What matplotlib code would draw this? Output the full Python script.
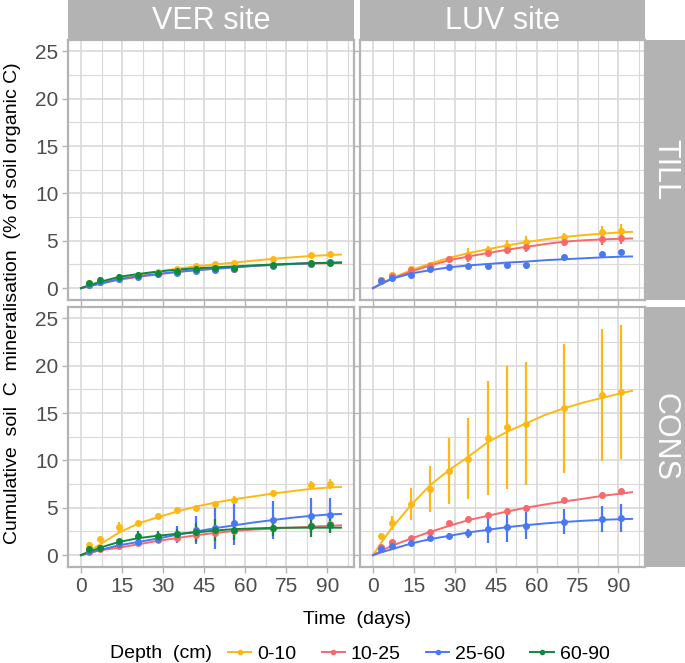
import numpy as np
import matplotlib.pyplot as plt
from matplotlib.lines import Line2D

plt.rcParams['font.family'] = ['Liberation Sans', 'DejaVu Sans']

# sampling days and days where the fitted curves were read
days = [3, 7, 14, 21, 28, 35, 42, 49, 56, 70, 84, 91]
fit_days = [0, 3, 7, 14, 21, 28, 35, 42, 49, 56, 63, 70, 77, 84, 91, 95]

depths = ['0-10', '10-25', '25-60', '60-90']
colors = ['#FDB813', '#F8696B', '#4A78F5', '#0E8A3C']
sites = ['VER site', 'LUV site']
tillage = ['TILL', 'CONS']

# VER site, TILL
ver_till_mean = {
    '0-10': [0.5, 0.8, 1.1, 1.4, 1.75, 2.0, 2.35, 2.5, 2.7, 3.1, 3.5, 3.65],
    '10-25': [0.35, 0.65, 1.0, 1.25, 1.5, 1.7, 1.9, 2.0, 2.05, 2.4, 2.6, 2.75],
    '25-60': [0.3, 0.6, 0.95, 1.2, 1.45, 1.65, 1.85, 1.95, 2.0, 2.35, 2.6, 2.75],
    '60-90': [0.5, 0.85, 1.2, 1.4, 1.65, 1.8, 2.0, 2.1, 2.1, 2.45, 2.65, 2.7],
}
ver_till_err = {
    '0-10': [0.1, 0.1, 0.1, 0.1, 0.1, 0.15, 0.1, 0.1, 0.1, 0.15, 0.2, 0.2],
    '10-25': [0.1, 0.1, 0.15, 0.15, 0.15, 0.15, 0.15, 0.15, 0.15, 0.2, 0.35, 0.35],
    '25-60': [0.1, 0.1, 0.15, 0.15, 0.15, 0.15, 0.15, 0.15, 0.15, 0.2, 0.3, 0.3],
    '60-90': [0.2, 0.3, 0.3, 0.2, 0.2, 0.15, 0.2, 0.2, 0.3, 0.2, 0.2, 0.2],
}
ver_till_fit = {
    '0-10': [0, 0.3, 0.6, 1.0, 1.4, 1.75, 2.05, 2.3, 2.5, 2.7, 2.9, 3.1, 3.25, 3.4, 3.5, 3.55],
    '10-25': [0, 0.2, 0.45, 0.9, 1.2, 1.45, 1.7, 1.9, 2.05, 2.2, 2.35, 2.45, 2.55, 2.6, 2.65, 2.7],
    '25-60': [0, 0.25, 0.5, 0.95, 1.25, 1.5, 1.72, 1.9, 2.05, 2.2, 2.35, 2.45, 2.55, 2.62, 2.68, 2.7],
    '60-90': [0, 0.3, 0.67, 1.2, 1.5, 1.75, 1.95, 2.1, 2.2, 2.3, 2.4, 2.5, 2.58, 2.65, 2.68, 2.7],
}

# LUV site, TILL
luv_till_mean = {
    '0-10': [0.9, 1.4, 2.0, 2.4, 3.1, 3.5, 4.0, 4.5, 4.9, 5.35, 5.9, 6.05],
    '10-25': [0.85, 1.3, 1.9, 2.3, 3.05, 3.3, 3.7, 4.0, 4.3, 4.9, 5.2, 5.3],
    '25-60': [0.77, 1.1, 1.4, 2.0, 2.25, 2.35, 2.3, 2.45, 2.45, 3.25, 3.6, 3.85],
}
luv_till_err = {
    '0-10': [0.2, 0.3, 0.3, 0.4, 0.3, 0.7, 0.5, 0.6, 0.6, 0.5, 0.7, 0.7],
    '10-25': [0.2, 0.2, 0.2, 0.3, 0.3, 0.5, 0.3, 0.4, 0.5, 0.4, 0.6, 0.6],
    '25-60': [0.3, 0.15, 0.1, 0.1, 0.1, 0.1, 0.1, 0.1, 0.25, 0.1, 0.1, 0.1],
}
luv_till_fit = {
    '0-10': [0, 0.5, 1.05, 1.9, 2.6, 3.2, 3.7, 4.1, 4.5, 4.85, 5.15, 5.4, 5.6, 5.75, 5.9, 5.95],
    '10-25': [0, 0.45, 1.0, 1.75, 2.4, 2.95, 3.35, 3.7, 4.05, 4.35, 4.65, 4.9, 5.05, 5.15, 5.22, 5.25],
    '25-60': [0, 0.45, 1.0, 1.55, 1.9, 2.2, 2.4, 2.55, 2.7, 2.8, 2.95, 3.05, 3.15, 3.25, 3.32, 3.35],
}

# VER site, CONS
ver_cons_mean = {
    '0-10': [1.05, 1.75, 2.95, 3.4, 4.1, 4.8, 4.95, 5.4, 5.85, 6.6, 7.4, 7.5],
    '10-25': [0.3, 0.6, 0.95, 1.3, 1.55, 1.8, 2.1, 2.3, 2.5, 2.85, 3.1, 3.25],
    '25-60': [0.45, 0.8, 1.15, 1.4, 1.75, 2.2, 2.65, 2.9, 3.35, 3.7, 4.15, 4.25],
    '60-90': [0.65, 0.8, 1.45, 2.0, 2.05, 2.2, 2.4, 2.65, 2.65, 2.9, 3.1, 3.2],
}
ver_cons_err = {
    '0-10': [0.2, 0.3, 0.6, 0.3, 0.3, 0.3, 0.2, 0.3, 0.4, 0.3, 0.45, 0.5],
    '10-25': [0.1, 0.1, 0.15, 0.2, 0.2, 0.2, 0.3, 0.3, 0.3, 0.3, 0.3, 0.3],
    '25-60': [0.1, 0.1, 0.15, 0.2, 0.3, 0.9, 1.5, 2.3, 2.25, 2.0, 1.85, 1.8],
    '60-90': [0.15, 0.2, 0.3, 0.5, 0.5, 0.6, 1.0, 1.2, 1.0, 0.9, 1.2, 0.9],
}
ver_cons_fit = {
    '0-10': [0, 0.45, 1.15, 2.4, 3.35, 4.0, 4.6, 5.13, 5.55, 5.9, 6.2, 6.5, 6.75, 7.0, 7.15, 7.2],
    '10-25': [0, 0.25, 0.5, 0.8, 1.15, 1.5, 1.8, 2.1, 2.35, 2.55, 2.7, 2.8, 2.9, 3.0, 3.1, 3.15],
    '25-60': [0, 0.25, 0.55, 1.05, 1.4, 1.75, 2.15, 2.5, 2.85, 3.15, 3.45, 3.7, 3.95, 4.15, 4.3, 4.35],
    '60-90': [0, 0.35, 0.8, 1.4, 1.8, 2.05, 2.25, 2.4, 2.6, 2.75, 2.82, 2.88, 2.9, 2.9, 2.9, 2.9],
}

# LUV site, CONS
luv_cons_mean = {
    '0-10': [2.0, 3.4, 5.4, 7.0, 8.9, 10.2, 12.4, 13.5, 13.9, 15.5, 16.9, 17.2],
    '10-25': [0.9, 1.34, 1.83, 2.46, 3.4, 3.8, 4.2, 4.7, 5.0, 5.8, 6.3, 6.75],
    '25-60': [0.7, 1.0, 1.27, 1.76, 2.04, 2.3, 2.74, 3.0, 3.13, 3.55, 3.8, 3.9],
}
luv_cons_err = {
    '0-10': [0.3, 0.7, 1.65, 2.4, 3.5, 4.25, 6.0, 6.5, 6.5, 6.8, 7.0, 7.05],
    '10-25': [0.15, 0.2, 0.15, 0.15, 0.2, 0.15, 0.2, 0.3, 0.3, 0.2, 0.3, 0.25],
    '25-60': [0.15, 0.15, 0.15, 0.2, 0.3, 0.5, 1.45, 1.6, 1.45, 1.3, 1.4, 1.45],
}
luv_cons_fit = {
    '0-10': [0, 1.3, 2.9, 5.3, 7.4, 9.0, 10.4, 11.9, 13.0, 13.9, 14.8, 15.5, 16.1, 16.6, 17.1, 17.35],
    '10-25': [0, 0.45, 1.0, 1.76, 2.46, 3.1, 3.7, 4.15, 4.6, 5.0, 5.35, 5.66, 5.95, 6.26, 6.5, 6.65],
    '25-60': [0, 0.3, 0.63, 1.23, 1.7, 2.04, 2.4, 2.67, 2.95, 3.16, 3.35, 3.5, 3.63, 3.73, 3.8, 3.83],
}

panels = [
    [(ver_till_mean, ver_till_err, ver_till_fit), (luv_till_mean, luv_till_err, luv_till_fit)],
    [(ver_cons_mean, ver_cons_err, ver_cons_fit), (luv_cons_mean, luv_cons_err, luv_cons_fit)],
]

W, H = 685, 663
fig = plt.figure(figsize=(W / 100, H / 100), dpi=100)


def box(x0, y0, x1, y1):
    # pixel box (top-left origin) -> figure fraction rect
    return [x0 / W, 1 - y1 / H, (x1 - x0) / W, (y1 - y0) / H]


col_x = [(68, 354), (360, 645)]
row_y = [(40, 300), (307, 567)]
grid_col = '#D9D9D9'
frame_col = '#B3B3B3'

for r in range(2):
    for c in range(2):
        mean, err, fit = panels[r][c]
        ax = fig.add_axes(box(col_x[c][0], row_y[r][0], col_x[c][1], row_y[r][1]))
        ax.set_xlim(-4.75, 99.75)
        ax.set_ylim(-1.25, 26.2)
        ax.set_xticks(np.arange(0, 91, 15))
        ax.set_xticks(np.arange(7.5, 99, 15), minor=True)
        ax.set_yticks(np.arange(0, 26, 5))
        ax.set_yticks(np.arange(2.5, 26, 5), minor=True)
        ax.grid(which='major', color=grid_col, lw=1.2)
        ax.grid(which='minor', color=grid_col, lw=0.8)
        ax.set_axisbelow(True)
        for s in ax.spines.values():
            s.set_color(frame_col)
            s.set_linewidth(1.6)
        ax.tick_params(which='minor', length=0)
        ax.tick_params(which='major', length=4, color=frame_col, width=1,
                       labelsize=15, labelcolor='#4D4D4D', pad=3)
        if c == 1:
            ax.tick_params(labelleft=False)
        if r == 0:
            ax.tick_params(labelbottom=False)

        for d, col in zip(depths, colors):
            if d not in mean:
                continue
            ax.plot(fit_days, fit[d], color=col, lw=1.4, zorder=3)
            ax.errorbar(days, mean[d], yerr=err[d], fmt='o', ms=4, color=col,
                        ecolor=col, elinewidth=1.6, capsize=0, zorder=4)

# strips
for c in range(2):
    sax = fig.add_axes(box(col_x[c][0], 0, col_x[c][1], 40))
    sax.set_facecolor(frame_col)
    sax.set_xticks([])
    sax.set_yticks([])
    for s in sax.spines.values():
        s.set_visible(False)
    sax.text(0.5, 0.47, sites[c], color='white', fontsize=22,
             ha='center', va='center', transform=sax.transAxes)
for r in range(2):
    sax = fig.add_axes(box(645, row_y[r][0], 685, row_y[r][1]))
    sax.set_facecolor(frame_col)
    sax.set_xticks([])
    sax.set_yticks([])
    for s in sax.spines.values():
        s.set_visible(False)
    sax.text(0.5, 0.5, tillage[r], color='white', fontsize=22, rotation=-90,
             ha='center', va='center', transform=sax.transAxes)

fig.text(357 / W, 1 - 620 / H, 'Time  (days)', fontsize=14, ha='center', va='center')
fig.text(13 / W, 1 - 303 / H, 'Cumulative  soil  C  mineralisation  (% of soil organic C)',
         fontsize=14, rotation=90, ha='center', va='center')

# legend
fig.text(110 / W, 1 - 654 / H, 'Depth  (cm)', fontsize=14, ha='left', va='center')
handles = [Line2D([], [], color=col, lw=1.4, marker='o', ms=3) for col in colors]
fig.legend(handles, depths, ncol=4, loc='center left',
           bbox_to_anchor=(228 / W, 1 - 654 / H), frameon=False, fontsize=14,
           handlelength=1.2, handletextpad=0.3, columnspacing=1.3,
           borderaxespad=0, borderpad=0)

fig.savefig('out.png', dpi=100)
